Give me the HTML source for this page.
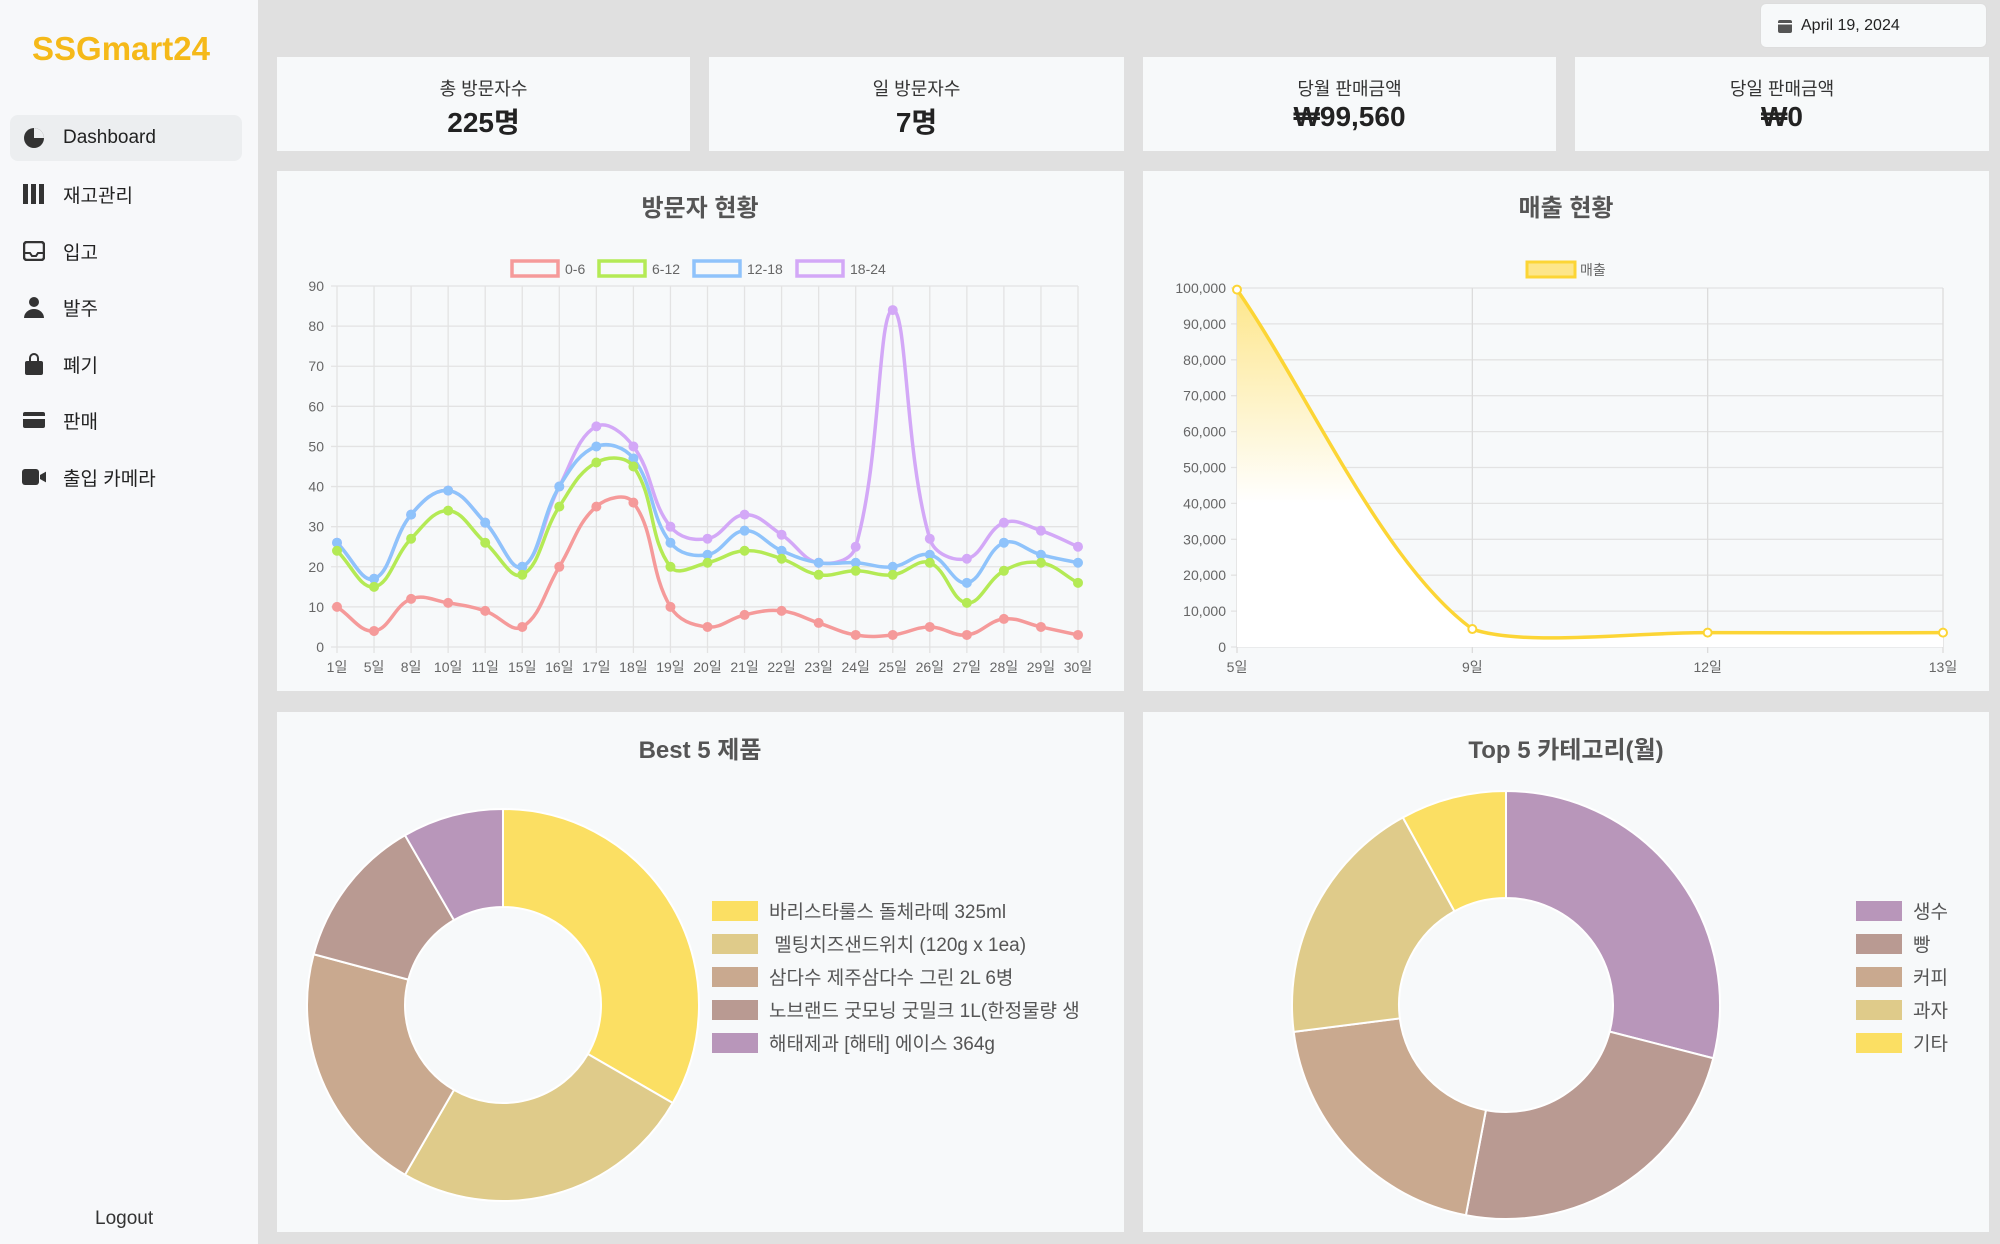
<!DOCTYPE html>
<html><head><meta charset="utf-8">
<style>
*{box-sizing:border-box;margin:0;padding:0}
body{width:2000px;height:1244px;background:#e0e0e0;font-family:"Liberation Sans","Noto Sans CJK KR",sans-serif;position:relative;overflow:hidden;color:#222}
#side{position:absolute;left:0;top:0;width:258px;height:1244px;background:#f7f8fa}
.logo{position:absolute;left:32px;top:30px;font-size:33px;font-weight:bold;color:#f5b919;letter-spacing:0px}
.menu{position:absolute;left:10px;width:232px;height:46px;border-radius:8px;font-size:19px;display:flex;align-items:center}
.menu .ic{width:24px;height:22px;margin-left:12px;margin-right:17px;display:flex;align-items:center;justify-content:center}
.menu.active{background:#eceef0}
.logout{position:absolute;left:95px;top:1208px;font-size:19px;color:#333}
.card{position:absolute;background:#f7f9fa}
.stat .lbl{position:absolute;width:100%;text-align:center;top:18px;font-size:18px;color:#333}
.stat .val{position:absolute;width:100%;text-align:center;top:44px;font-size:28px;font-weight:bold;color:#222}
.date{position:absolute;left:1760px;top:3px;width:227px;height:45px;background:#f7f9fa;border:1px solid #ddd;border-radius:6px;font-size:16px;display:flex;align-items:center;padding-left:16px}
svg text{font-family:"Liberation Sans","Noto Sans CJK KR",sans-serif}
</style></head><body>
<div id="side">
 <div class="logo">SSGmart24</div>
 <div class="menu active" style="top:115px"><span class="ic"><svg width="22" height="22"><circle cx="11" cy="11" r="10" fill="#333"/><path d="M11 11V1A10 10 0 0 1 21 11Z" fill="#eceef0"/></svg></span>Dashboard</div>
 <div class="menu" style="top:171px"><span class="ic"><svg width="22" height="20"><rect x="0" y="0" width="5" height="20" fill="#333"/><rect x="8" y="0" width="5" height="20" fill="#333"/><rect x="16" y="0" width="5" height="20" fill="#333"/></svg></span>재고관리</div>
 <div class="menu" style="top:228px"><span class="ic"><svg width="22" height="20"><rect x="1" y="1" width="20" height="18" rx="3" fill="none" stroke="#333" stroke-width="2.5"/><path d="M1 12h6l2 3h4l2-3h6" fill="none" stroke="#333" stroke-width="2"/></svg></span>입고</div>
 <div class="menu" style="top:284px"><span class="ic"><svg width="20" height="22"><circle cx="10" cy="6" r="5" fill="#333"/><path d="M0 22a10 9 0 0 1 20 0Z" fill="#333"/></svg></span>발주</div>
 <div class="menu" style="top:341px"><span class="ic"><svg width="20" height="22"><path d="M6 8V5a4 4 0 0 1 8 0v3" fill="none" stroke="#333" stroke-width="2"/><rect x="1" y="8" width="18" height="14" rx="2" fill="#333"/></svg></span>폐기</div>
 <div class="menu" style="top:397px"><span class="ic"><svg width="22" height="18"><rect x="0" y="1" width="22" height="16" rx="2" fill="#333"/><rect x="0" y="5" width="22" height="3" fill="#f7f8fa"/></svg></span>판매</div>
 <div class="menu" style="top:454px"><span class="ic"><svg width="26" height="18"><rect x="0" y="1" width="17" height="16" rx="3" fill="#333"/><path d="M18 7l7-4v12l-7-4Z" fill="#333"/></svg></span>출입 카메라</div>
 <div class="logout">Logout</div>
</div>
<div class="date"><svg width="16" height="16" style="margin-right:8px"><rect x="1" y="2" width="14" height="13" rx="2" fill="#555"/><rect x="1" y="5" width="14" height="1.5" fill="#fff"/></svg>April 19, 2024</div>

<div class="card stat" style="left:277px;top:57px;width:413px;height:94px"><div class="lbl">총 방문자수</div><div class="val">225명</div></div>
<div class="card stat" style="left:709px;top:57px;width:415px;height:94px"><div class="lbl">일 방문자수</div><div class="val">7명</div></div>
<div class="card stat" style="left:1143px;top:57px;width:413px;height:94px"><div class="lbl">당월 판매금액</div><div class="val">₩99,560</div></div>
<div class="card stat" style="left:1575px;top:57px;width:414px;height:94px"><div class="lbl">당일 판매금액</div><div class="val">₩0</div></div>

<div class="card" style="left:277px;top:171px;width:847px;height:520px"></div>
<div class="card" style="left:1143px;top:171px;width:846px;height:520px"></div>
<div class="card" style="left:277px;top:712px;width:847px;height:520px"></div>
<div class="card" style="left:1143px;top:712px;width:846px;height:520px"></div>

<svg id="charts" width="2000" height="1244" style="position:absolute;left:0;top:0">
<defs><linearGradient id="sg" x1="0" y1="288" x2="0" y2="647" gradientUnits="userSpaceOnUse"><stop offset="0" stop-color="#fde68a"/><stop offset="0.6" stop-color="#ffffff"/><stop offset="1" stop-color="#ffffff"/></linearGradient></defs>
</svg>

<script>
const visitDays = ['1일','5일','8일','10일','11일','15일','16일','17일','18일','19일','20일','21일','22일','23일','24일','25일','26일','27일','28일','29일','30일'];
const visit0_6 = [10,4,12,11,9,5,20,35,36,10,5,8,9,6,3,3,5,3,7,5,3];
const visit6_12 = [24,15,27,34,26,18,35,46,45,20,21,24,22,18,19,18,21,11,19,21,16];
const visit12_18 = [26,17,33,39,31,20,40,50,47,26,23,29,24,21,21,20,23,16,26,23,21];
const visit18_24 = [26,17,33,39,31,20,40,55,50,30,27,33,28,21,25,84,27,22,31,29,25];
const visitTicks = [0,10,20,30,40,50,60,70,80,90];
const salesDays = ['5일','9일','12일','13일'];
const salesValues = [99560,5000,4000,4000];
const salesTicks = [0,10000,20000,30000,40000,50000,60000,70000,80000,90000,100000];
const bestNames = ['바리스타룰스 돌체라떼 325ml','\u00a0멜팅치즈샌드위치 (120g x 1ea)','삼다수 제주삼다수 그린 2L 6병','노브랜드 굿모닝 굿밀크 1L(한정물량 생','해태제과 [해태] 에이스 364g'];
const bestValues = [8,6,5,3,2];
const catNames = ['생수','빵','커피','과자','기타'];
const catValues = [29,24,20,19,8];

const svg=document.getElementById('charts');
const NS='http://www.w3.org/2000/svg';
function mk(tag,attrs,parent){const e=document.createElementNS(NS,tag);for(const k in attrs)e.setAttribute(k,attrs[k]);(parent||svg).appendChild(e);return e;}
function txt(s,x,y,attrs){const e=mk('text',Object.assign({x:x,y:y},attrs));e.textContent=s;return e;}
function spline(pts,tension,ymin,ymax){
  let d='M'+pts[0][0]+' '+pts[0][1];
  const cl=v=>(ymin===undefined)?v:Math.max(ymin,Math.min(ymax,v));
  const cps=pts.map((p,i)=>{
    const a=pts[Math.max(0,i-1)],c=pts[Math.min(pts.length-1,i+1)];
    const d01=Math.hypot(p[0]-a[0],p[1]-a[1]),d12=Math.hypot(c[0]-p[0],c[1]-p[1]);
    let s01=d01/(d01+d12||1),s12=d12/(d01+d12||1);
    const fa=tension*s01,fb=tension*s12;
    return {px:p[0]-fa*(c[0]-a[0]),py:cl(p[1]-fa*(c[1]-a[1])),nx:p[0]+fb*(c[0]-a[0]),ny:cl(p[1]+fb*(c[1]-a[1]))};
  });
  for(let i=1;i<pts.length;i++){d+=' C'+cps[i-1].nx+' '+cps[i-1].ny+' '+cps[i].px+' '+cps[i].py+' '+pts[i][0]+' '+pts[i][1];}
  return d;
}
let t;
t=txt('방문자 현황',700,216,{'font-size':24,'font-weight':'bold',fill:'#555','text-anchor':'middle'});


t=txt('매출 현황',1566,216,{'font-size':24,'font-weight':'bold',fill:'#555','text-anchor':'middle'});


t=txt('Best 5 제품',700,758,{'font-size':24,'font-weight':'bold',fill:'#555','text-anchor':'middle'});


t=txt('Top 5 카테고리(월)',1566,758,{'font-size':24,'font-weight':'bold',fill:'#555','text-anchor':'middle'});



(function(){
  const x0=337,x1=1078,y0=647,y1=286;
  const xs=i=>x0+(x1-x0)*i/(visitDays.length-1);
  const ys=v=>y0-(y0-y1)*v/90;
  visitTicks.forEach(v=>{
    mk('line',{x1:x0-6,x2:x1,y1:ys(v),y2:ys(v),stroke:'#e3e3e3','stroke-width':1.3});
    const l=txt(v,324,ys(v)+5,{'font-size':14,fill:'#666','text-anchor':'end'});
    
    
  });
  visitDays.forEach((d,i)=>{
    mk('line',{x1:xs(i),x2:xs(i),y1:y1,y2:y0+6,stroke:'#e3e3e3','stroke-width':1.3});
    const l=txt(d,xs(i),672,{'font-size':14,fill:'#666','text-anchor':'middle'});
    
    
  });
  const series=[[visit18_24,'#d3a8f7','18-24'],[visit12_18,'#8fc3fb','12-18'],[visit6_12,'#b4ea55','6-12'],[visit0_6,'#f59a9a','0-6']];
  series.forEach(s=>{
    const pts=s[0].map((v,i)=>[xs(i),ys(v)]);
    const p=mk('path',{d:spline(pts,0.4),fill:'none',stroke:s[1],'stroke-width':3.5});
    
    
    pts.forEach(q=>{const c=mk('circle',{cx:q[0],cy:q[1],r:4.5,fill:s[1],stroke:s[1]});
      
      });
  });
  const leg=[['0-6','#f59a9a',512],['6-12','#b4ea55',599],['12-18','#8fc3fb',694],['18-24','#d3a8f7',797]];
  leg.forEach(l=>{
    const r=mk('rect',{x:l[2],y:261,width:46,height:15,fill:'none',stroke:l[1],'stroke-width':3.5});
    
    
    txt(l[0],l[2]+53,274,{'font-size':14,fill:'#666'});
  });
})();

(function(){
  const x0=1237,x1=1943,y0=647,y1=288;
  const xs=i=>x0+(x1-x0)*i/(salesDays.length-1);
  const ys=v=>y0-(y0-y1)*v/100000;
  salesTicks.forEach(v=>{
    mk('line',{x1:x0-6,x2:x1,y1:ys(v),y2:ys(v),stroke:'#e3e3e3','stroke-width':1.3});
    const l=txt(v.toLocaleString('en-US'),1226,ys(v)+5,{'font-size':14,fill:'#666','text-anchor':'end'});
    
    
  });
  salesDays.forEach((d,i)=>{
    mk('line',{x1:xs(i),x2:xs(i),y1:y1,y2:y0+6,stroke:'#dcdcdc','stroke-width':1.3});
    const l=txt(d,xs(i),672,{'font-size':14,fill:'#666','text-anchor':'middle'});
    
    
  });
  const pts=salesValues.map((v,i)=>[xs(i),ys(v)]);
  const d=spline(pts,0.3,y1,y0);
  const area=mk('path',{d:d+' L'+x1+' '+y0+' L'+x0+' '+y0+' Z',fill:'url(#sg)'});
  
  
  const ln=mk('path',{d:d,fill:'none',stroke:'#fcd535','stroke-width':3.5});
  
  
  pts.forEach(q=>{const c=mk('circle',{cx:q[0],cy:q[1],r:4,fill:'#fff',stroke:'#fcd535','stroke-width':2});
    
    });
  const r=mk('rect',{x:1527,y:262,width:48,height:15,fill:'#fde68a',stroke:'#fcd535','stroke-width':3});
  
  
  txt('매출',1580,275,{'font-size':14,fill:'#666'});
})();

function donut(vals,names,colors,cx,cy,R,r,lx,prefix){
  const tot=vals.reduce((a,b)=>a+b,0);let a=0;
  vals.forEach((v,i)=>{
    const a0=a,a1=a+v/tot*2*Math.PI;a=a1;
    const P=(ang,rr)=>[cx+rr*Math.sin(ang),cy-rr*Math.cos(ang)];
    const [ax,ay]=P(a0,R),[bx,by]=P(a1,R),[cx2,cy2]=P(a1,r),[dx,dy]=P(a0,r);
    const lg=(a1-a0)>Math.PI?1:0;
    const p=mk('path',{d:`M${ax} ${ay} A${R} ${R} 0 ${lg} 1 ${bx} ${by} L${cx2} ${cy2} A${r} ${r} 0 ${lg} 0 ${dx} ${dy} Z`,fill:colors[i],stroke:'#fff','stroke-width':2});
    
    
    const ly=911+i*33;
    const sw=mk('rect',{x:lx,y:ly-10,width:46,height:20,fill:colors[i]});
    
    
    txt(names[i],lx+57,ly+7,{'font-size':19,fill:'#555'});
  });
}
donut(bestValues,bestNames,['#fbdf63','#dfcb8a','#c9a98f','#b99a92','#b896ba'],503,1005,196,98,712,'best5');
donut(catValues,catNames,['#b896ba','#b99a92','#c9a98f','#dfcb8a','#fbdf63'],1506,1005,214,107,1856,'category');
</script>
</body></html>
